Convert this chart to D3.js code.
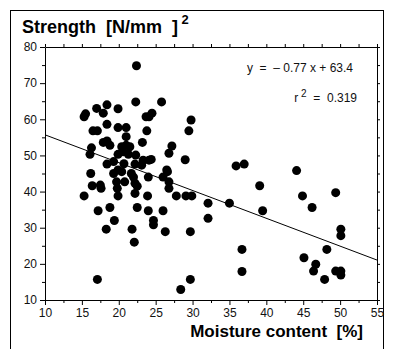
<!DOCTYPE html>
<html><head><meta charset="utf-8">
<script src="https://cdn.jsdelivr.net/npm/d3@7"></script>
<style>body{margin:0;background:#fff}svg{display:block}svg text{white-space:pre}</style>
</head><body>
<svg id="c" width="394" height="349"></svg>
<script>
const moisture = [22.4,22.3,25.8,15.5,15.3,17.0,17.9,18.4,19.9,24.5,24.1,23.7,29.8,18.4,16.5,17.1,19.9,21.0,23.8,29.5,
21.0,17.9,18.4,18.8,16.3,16.1,23.2,27.2,26.8,20.4,21.0,21.5,19.9,20.6,21.3,22.3,
23.3,24.1,24.4,29.0,19.3,18.4,20.7,22.2,23.1,19.9,20.4,26.5,21.7,16.2,19.3,35.9,37.0,44.1,26.6,
22.0,24.0,26.0,26.8,19.7,20.8,22.2,22.5,19.8,26.8,16.4,17.5,17.6,39.1,
15.3,19.9,22.2,23.9,27.8,29.1,29.9,44.9,49.4,18.8,22.5,46.2,32.1,35.0,
17.2,24.0,26.0,39.5,32.1,19.4,24.7,24.7,
18.3,21.8,26.3,29.7,22.1,50.1,50.1,36.7,48.2,45.1,46.7,46.4,49.4,50.1,50.1,36.7,47.9,17.1,29.7,28.4];
const strength = [74.8,64.8,64.8,61.5,60.7,63.0,61.7,64.0,62.9,61.7,60.7,60.7,59.8,58.6,56.8,56.8,57.7,57.7,56.8,56.8,
55.2,53.6,54.0,52.8,52.1,50.3,53.6,52.6,50.6,52.4,52.8,52.4,50.3,51.0,50.3,50.1,
48.7,48.7,48.9,48.8,48.3,47.6,47.7,47.6,47.3,46.0,45.5,46.0,45.0,45.0,45.0,47.1,47.6,45.8,45.5,
44.0,44.0,44.0,42.7,42.7,42.7,42.3,41.5,40.9,40.9,41.6,41.8,40.9,41.6,
38.8,38.8,39.5,38.8,38.8,38.8,38.8,38.8,39.7,35.6,35.6,35.6,36.8,36.8,
34.7,34.7,34.7,34.7,32.6,32.0,32.0,30.8,
29.6,29.6,28.9,28.9,26.0,29.6,27.8,24.0,24.0,21.7,19.9,18.0,18.0,18.0,16.9,17.9,15.7,15.7,15.7,12.9];
const xTicks = [10,15,20,25,30,35,40,45,50,55];
const yTicks = [10,20,30,40,50,60,70,80];
const slope = -0.77, intercept = 63.4;
const eqText = "y  =  \u2013 0.77 x + 63.4";
const r2Text = "0.319";

const svg = d3.select("#c");
const FONT = "Liberation Sans, Arial, sans-serif";
const x = d3.scaleLinear().domain([10,55]).range([45,377]);
const y = d3.scaleLinear().domain([10,80]).range([300,47]);

// outer frame
svg.append("rect").attr("x",10.5).attr("y",10.5).attr("width",373).attr("height",345)
  .attr("fill","none").attr("stroke","#000").attr("stroke-width",1);

// axes
const gx = svg.append("g").attr("transform","translate(0,300)")
  .call(d3.axisBottom(x).tickValues(d3.range(10,55.1,2.5)).tickSize(4).tickSizeOuter(0)
    .tickFormat(d => xTicks.includes(d) ? d : ""));
gx.selectAll(".tick line").attr("y2", d => d%5===0 ? 5 : 3);
const gxt = svg.append("g").attr("transform","translate(0,47)")
  .call(d3.axisTop(x).tickValues(d3.range(10,55.1,2.5)).tickSize(3).tickSizeOuter(0).tickFormat(""));
const gy = svg.append("g").attr("transform","translate(45,0)")
  .call(d3.axisLeft(y).tickValues(d3.range(10,80.1,5)).tickSize(4).tickSizeOuter(0)
    .tickFormat(d => yTicks.includes(d) ? d : ""));
gy.selectAll(".tick line").attr("x2", d => d%10===0 ? -5 : -3);
const gyr = svg.append("g").attr("transform","translate(377,0)")
  .call(d3.axisRight(y).tickValues(d3.range(10,80.1,5)).tickSize(3).tickSizeOuter(0).tickFormat(""));

[gx,gxt,gy,gyr].forEach(g=>{
  g.select(".domain").attr("stroke","#000");
  g.selectAll(".tick line").attr("stroke","#000");
  g.selectAll("text").attr("font-family",FONT).attr("font-size",12).attr("fill","#111");
});
gx.selectAll("text").attr("dy","0.85em");
gy.selectAll("text").attr("dx","-1");

// points
svg.append("g").selectAll("circle").data(moisture.map((m,i)=>[m,strength[i]])).join("circle")
  .attr("cx",d=>x(d[0])).attr("cy",d=>y(d[1])).attr("r",4.5).attr("fill","#000");

// regression line
svg.append("line").attr("x1",x(10)).attr("y1",y(slope*10+intercept))
  .attr("x2",x(55)).attr("y2",y(slope*55+intercept)).attr("stroke","#000").attr("stroke-width",1);

// equation
svg.append("text").attr("x",353).attr("y",72).attr("text-anchor","end")
  .attr("font-family",FONT).attr("font-size",12).attr("fill","#111").text(eqText);
const r2 = svg.append("text").attr("x",357).attr("y",102).attr("text-anchor","end")
  .attr("font-family",FONT).attr("font-size",12).attr("fill","#111");
r2.append("tspan").text("r");
r2.append("tspan").attr("dy",-5).attr("font-size",10).text(" 2");
r2.append("tspan").attr("dy",5).text("  =  " + r2Text);

// axis titles
const t = svg.append("text").attr("x",22).attr("y",33).attr("font-family",FONT)
  .attr("font-weight","bold").attr("font-size",18).attr("fill","#000");
t.append("tspan").text("Strength  [N/mm  ]");
t.append("tspan").attr("dy",-9).attr("font-size",13).text(" 2");
svg.append("text").attr("x",363).attr("y",337).attr("text-anchor","end").attr("font-family",FONT)
  .attr("font-weight","bold").attr("font-size",17).attr("fill","#000").text("Moisture content  [%]");
</script>
</body></html>
